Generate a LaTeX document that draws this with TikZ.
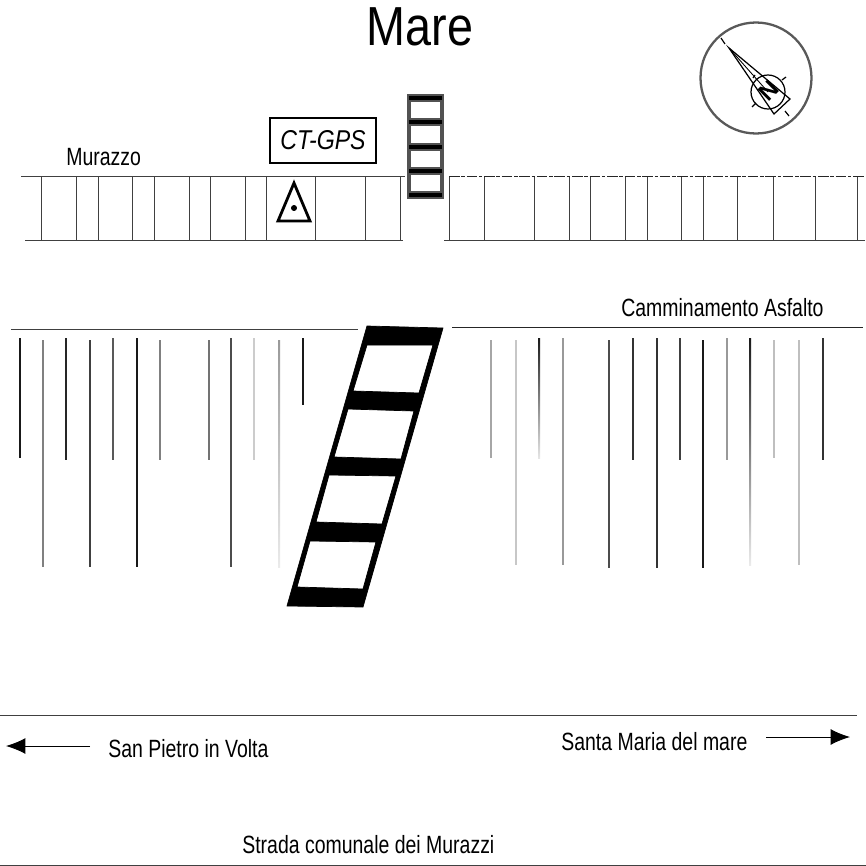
\documentclass[tikz,border=0pt]{standalone}
\usepackage{fontspec}
\setmainfont{Liberation Sans}
\newfontfamily\narrowfont[FakeStretch=0.85]{Liberation Sans}
\newfontfamily\labelfont[FakeStretch=0.78]{Liberation Sans}
\usetikzlibrary{arrows.meta}
\tikzset{
	label text/.style={inner sep=0pt, font=\labelfont\fontsize{14.2}{15}\selectfont, text=black},
	thin rule/.style={line width=0.5pt, color=black!75},
	pole/.style={line width=1.1pt},
	road arrow/.style={-{Latex[length=11pt, width=9pt]}, line width=0.5pt}
}
\begin{document}
\begin{tikzpicture}[x=0.02cm, y=-0.02cm]
			%%%%% START %%%%%
			\useasboundingbox (0, 0) rectangle (866, 866);
			
			\node[inner sep=0pt, font=\narrowfont\fontsize{31.3}{32}\selectfont] (mare) at (420, 27) {Mare};
			
			% compass
			\draw[line width=1.3pt, color=black!65] (756, 78) circle (55.5);
			\draw[line width=0.7pt] (768, 92) circle (17);
			\draw[line width=0.7pt] (729, 48) -- (790, 99) -- (774, 114) -- cycle;
			\draw[line width=0.5pt] (729, 48) -- (768, 92);
			\draw[line width=0.7pt] (721, 38) -- (725, 44);
			\draw[line width=0.7pt] (785, 111) -- (789, 116);
			\draw[line width=0.7pt] (755, 75) -- (753, 78);
			\draw[line width=0.7pt] (782, 80) -- (786, 77);
			\draw[line width=0.7pt] (752, 107) -- (756, 103);
			\node[inner sep=0pt, rotate=45, font=\bfseries\fontsize{13.5}{14}\selectfont] (north) at (769, 91) {N};
			
			% murazzo
			\draw[thin rule] (21, 176) -- (405, 176);
			\draw[thin rule] (25, 240) -- (403, 240);
			\foreach \px in {41, 76, 98, 132, 154, 189, 210, 245, 266, 315, 365, 400}
				\draw[thin rule] (\px, 176) -- (\px, 240);
			\foreach \px in {449, 484, 534, 569, 590, 625, 647, 681, 703, 737, 773, 815, 857}
				\draw[thin rule] (\px, 176) -- (\px, 240);
			\draw[thin rule] (444, 240) -- (865, 240);
			\draw[thin rule, color=black!85, dash pattern=on 6pt off 1pt on 2pt off 1pt] (449, 176) -- (865, 176);
			
			\node[label text, anchor=base west] (murazzo) at (66, 165.5) {Murazzo};
			
			\node[draw, line width=0.6pt, minimum width=2.12cm, minimum height=0.9cm, inner sep=0pt, font=\narrowfont\itshape\fontsize{15.5}{16}\selectfont] (ctgps) at (323, 140.5) {CT-GPS};
			
			\draw[line width=1.6pt, line join=miter] (294, 183) -- (310, 221) -- (278, 221) -- cycle;
			\draw[fill=black] (294, 208) circle (2.6);
			
			% small ladder
			\draw[line width=2.3pt, color=black!68] (409, 98) rectangle (442, 195);
			\foreach \py in {98, 122, 147, 171, 195}
				\draw[line width=4.5pt, color=black!68] (407, \py) -- (444, \py);
			\foreach \py in {98, 122, 147, 171, 195}
				\draw[line width=2.2pt] (409, \py) -- (442, \py);
			
			% camminamento
			\draw[thin rule] (11, 329) -- (358, 329);
			\draw[thin rule, color=black!85] (452, 327) -- (863, 327);
			\node[label text, anchor=base west] (camminamento) at (621, 316) {Camminamento Asfalto};
			
			% poles
			\foreach \px/\ptop/\pbot/\pgrey in {20/338/458/90, 43/340/567/50, 66/338/460/85, 90/340/567/75, 113/338/460/65, 137/338/567/90, 160/340/460/50, 209/340/460/55, 231/338/567/70, 254/338/460/20, 303/338/405/90, 491/340/458/35, 516/340/565/22, 563/338/565/40, 609/340/568/70, 633/338/460/80, 657/338/568/80, 680/338/460/75, 703/340/568/90, 727/338/460/40, 774/340/458/25, 799/340/565/25, 823/338/460/80}
				\draw[pole, color=black!\pgrey] (\px, \ptop) -- (\px, \pbot);
			\shade[top color=black!40, bottom color=black!8] (278, 340) rectangle (280, 567);
			\shade[top color=black!90, bottom color=black!10] (538, 338) rectangle (540, 458);
			\shade[top color=black!90, bottom color=black!8] (749, 338) rectangle (751, 565);
			
			% big ladder
			\draw[fill=black, even odd rule] (367, 326) -- (443, 328) -- (363, 607) -- (287, 606) -- cycle
				(367, 345) -- (433, 345) -- (419, 393) -- (353, 391) -- cycle
				(348, 409) -- (414, 411) -- (401, 459) -- (334, 457) -- cycle
				(329, 475) -- (396, 476) -- (382, 524) -- (316, 522) -- cycle
				(310, 541) -- (376, 542) -- (363, 589) -- (297, 587) -- cycle;
			
			% road
			\draw[thin rule] (0, 715) -- (857, 715);
			\draw[thin rule] (0, 865) -- (866, 865);
			\node[label text, anchor=base west] (sanpietro) at (108, 757.5) {San Pietro in Volta};
			\node[label text, anchor=base west] (santamaria) at (561, 750) {Santa Maria del mare};
			\node[label text, anchor=base west] (strada) at (242, 853.5) {Strada comunale dei Murazzi};
			\coordinate (leftend) at (6, 746);
			\coordinate (leftstart) at (90, 746);
			\coordinate (rightstart) at (766, 737);
			\coordinate (rightend) at (850, 737);
			\draw[road arrow] (leftstart) -- (leftend);
			\draw[road arrow] (rightstart) -- (rightend);
			
			%%%%% END %%%%%
		\end{tikzpicture}
\end{document}
